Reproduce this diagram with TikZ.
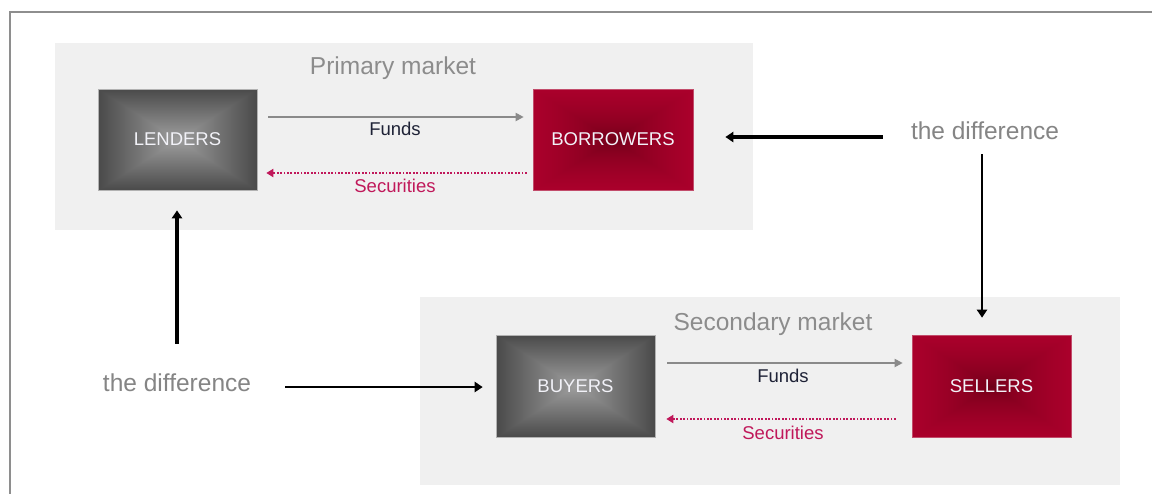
\documentclass[tikz,border=0pt]{standalone}
\usepackage{fontspec}
\setmainfont{Liberation Sans}
\usetikzlibrary{arrows.meta}
\definecolor{panelgray}{HTML}{F0F0F0}
\definecolor{framegray}{HTML}{8E8E8E}
\definecolor{titlegray}{HTML}{8C8C8C}
\definecolor{diffgray}{HTML}{858585}
\definecolor{redout}{HTML}{A8002B}
\definecolor{fundgray}{HTML}{8A8A8A}
\definecolor{fundtext}{HTML}{1E2236}
\definecolor{secred}{HTML}{C0185A}
\definecolor{boxtext}{HTML}{F2F2F8}
% rectangular gradients: t = max(|x|,|y|)/25 (TikZ maps the middle 50bp square onto the node)
\pgfdeclarefunctionalshading{rectgray}{\pgfpoint{-50bp}{-50bp}}{\pgfpoint{50bp}{50bp}}{}{
  abs exch abs 2 copy sub abs add add 2 div 25 div
  dup -0.33 mul 0.62 add exch
  dup -0.33 mul 0.62 add exch
  -0.33 mul 0.62 add
}
\pgfdeclarefunctionalshading{rectred}{\pgfpoint{-50bp}{-50bp}}{\pgfpoint{50bp}{50bp}}{}{
  abs exch abs 2 copy sub abs add add 2 div 25 div sqrt
  dup 0.27 mul 0.40 add exch
  dup 0.0 mul 0.0 add exch
  0.09 mul 0.08 add
}
\tikzset{
  actor/.style={rectangle, minimum width=159pt, minimum height=101pt, inner sep=0pt,
    font=\fontsize{18.5pt}{22pt}\selectfont, text=boxtext},
  darkbox/.style={actor, shading=rectgray, draw=gray!60, line width=0.6pt},
  redbox/.style={actor, shading=rectred, draw=redout!70!white, line width=0.6pt},
  title/.style={font=\fontsize{24.5pt}{29pt}\selectfont, text=titlegray, inner sep=0pt},
  difftext/.style={font=\fontsize{24.5pt}{29pt}\selectfont, text=diffgray, inner sep=0pt},
  fundlabel/.style={font=\fontsize{18.5pt}{22pt}\selectfont, text=fundtext, inner sep=0pt},
  seclabel/.style={font=\fontsize{18.5pt}{22pt}\selectfont, text=secred, inner sep=0pt},
  fundarrow/.style={draw=fundgray, line width=1.8pt, -{Triangle[length=8pt,width=8pt]}},
  secarrow/.style={draw=secred, line width=1.8pt, dash pattern=on 1.8pt off 1.6pt, -{Triangle[length=7pt,width=8pt]}},
  bigarrow/.style={draw=black, line width=3.3pt, -{Triangle[length=8pt,width=10pt]}},
}
\begin{document}
\begin{tikzpicture}[x=1pt,y=-1pt]
\useasboundingbox (0,0) rectangle (1152,493);
\clip (0,0) rectangle (1152,493);
\fill[white] (0,0) rectangle (1152,493);
\draw[framegray, line width=2pt] (10,12) rectangle (1175,515);
% panels
\fill[panelgray] (55,43) rectangle (753,230);
\fill[panelgray] (420,297) rectangle (1120,485);
\node[title] (ptitle) at (393,68) {Primary market};
\node[title] (stitle) at (773,324) {Secondary market};
% actors
\node[darkbox] (lenders) at (177.5,139.5) {LENDERS};
\node[redbox, minimum width=160pt] (borrowers) at (613,139.5) {BORROWERS};
\node[darkbox, minimum height=102pt] (buyers) at (575.5,386) {BUYERS};
\node[redbox, minimum height=102pt] (sellers) at (991.5,386) {SELLERS};
% the difference
\node[difftext] (diffR) at (985,131) {the difference};
\node[difftext] (diffL) at (177,383) {the difference};
% primary market flows
\draw[fundarrow, shorten <=11pt, shorten >=9pt] ([yshift=22.5pt]lenders.east) -- ([yshift=22.5pt]borrowers.west);
\node[fundlabel] (pfunds) at (395,128.5) {Funds};
\draw[secarrow, shorten <=6pt, shorten >=9pt] ([yshift=-33.5pt]borrowers.west) -- ([yshift=-33.5pt]lenders.east);
\node[seclabel] (psec) at (395,186) {Securities};
% secondary market flows
\draw[fundarrow, shorten <=12pt, shorten >=9pt] ([yshift=23pt]buyers.east) -- ([yshift=23pt]sellers.west);
\node[fundlabel] (sfunds) at (783,376) {Funds};
\draw[secarrow, shorten <=16pt, shorten >=11pt] ([yshift=-33pt]sellers.west) -- ([yshift=-33pt]buyers.east);
\node[seclabel] (ssec) at (783,433) {Securities};
% the difference arrows
\draw[bigarrow] ([xshift=-28pt,yshift=-6pt]diffR.west) -- ([xshift=32pt,yshift=2.5pt]borrowers.east);
\draw[bigarrow, line width=2.6pt] ([xshift=-3pt,yshift=-14pt]diffR.south) -- ([xshift=-9.5pt,yshift=17pt]sellers.north);
\draw[bigarrow] ([yshift=30pt]diffL.north) -- ([xshift=-0.5pt,yshift=-20pt]lenders.south);
\draw[bigarrow, line width=2.6pt] ([xshift=34pt,yshift=-4pt]diffL.east) -- ([xshift=-13pt,yshift=-1pt]buyers.west);
\end{tikzpicture}
\end{document}
